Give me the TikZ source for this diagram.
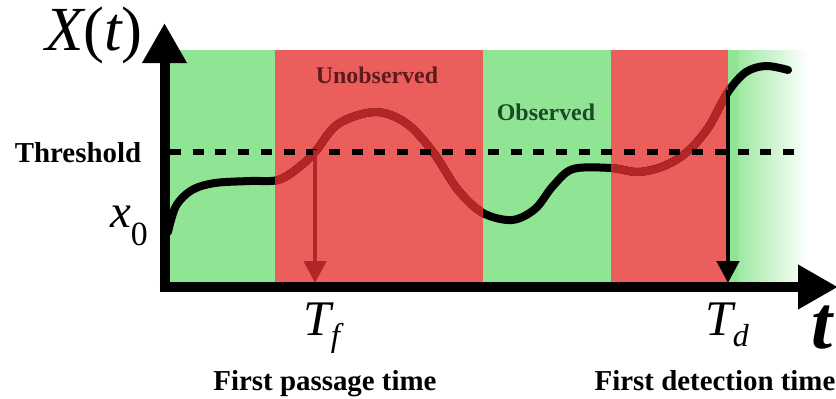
\documentclass[tikz,border=0pt]{standalone}
\usepackage{fontspec}
\setmainfont{Liberation Serif}
\usetikzlibrary{arrows.meta}
\definecolor{obsgreen}{RGB}{144,229,148}
\definecolor{unobsred}{RGB}{236,94,92}
\definecolor{curvered}{RGB}{180,38,38}
\definecolor{unobstext}{RGB}{92,28,28}
\definecolor{obstext}{RGB}{30,72,40}
\newcommand\drawmycurve[1]{\draw[#1] plot[smooth,tension=0.55] coordinates {(168,232) (176,206) (192,190) (215,183) (250,181) (278,180) (298,168) (315,152) (338,124) (375,112) (406,123) (433,152) (458,190) (483,213) (512,220) (535,209) (553,186) (573,169) (611,168) (638,172) (664,166) (687,152) (708,128) (728,92) (746,72) (766,66) (788,70)};}
\tikzset{
  band/.style={draw=none},
  curvestyle/.style={line width=8bp,line cap=round,line join=round},
  axisstyle/.style={line width=10bp,-{Triangle[width=42bp,length=40bp]}},
  boldlabel/.style={font=\fontsize{29}{34}\selectfont\bfseries,inner sep=0pt,anchor=base},
  zonelabel/.style={font=\fontsize{24}{28}\selectfont\bfseries,inner sep=0pt,anchor=base},
  droparrow/.style={line width=4.5bp,-{Triangle[width=22bp,length=22bp]}},
}
\begin{document}
\begin{tikzpicture}[x=1bp,y=-1bp]
\useasboundingbox (0,0) rectangle (836,398);
% bands
\fill[obsgreen] (164,50) rectangle (275,287);
\fill[unobsred] (275,50) rectangle (483,287);
\fill[obsgreen] (483,50) rectangle (611,287);
\fill[unobsred] (611,50) rectangle (728,287);
\shade[left color=obsgreen,right color=white] (728,50) rectangle (808,287);
\fill[obsgreen] (728,50) rectangle (738,287);
% curve
\drawmycurve{curvestyle,black}
\begin{scope}
  \clip (275,40) rectangle (483,290) (611,40) rectangle (728,290);
  \drawmycurve{curvestyle,curvered}
\end{scope}
% threshold
\coordinate (thL) at (170,152);
\coordinate (thR) at (805,152);
\draw[line width=6bp,dash pattern=on 11bp off 11.7bp] (thL) -- (thR);
% drop arrows
\coordinate (tfTop) at (315,150);
\coordinate (tfBot) at (315,283);
\draw[droparrow,curvered] (tfTop) -- (tfBot);
\coordinate (tdTop) at (728,90);
\coordinate (tdBot) at (728,283);
\draw[droparrow,black] (tdTop) -- (tdBot);
% axes
\coordinate (orig) at (164.5,292);
\coordinate (ytip) at (164.5,23);
\coordinate (xstart) at (159.5,287);
\coordinate (xtip) at (838,287);
\draw[axisstyle] (orig) -- (ytip);
\draw[axisstyle] (xstart) -- (xtip);
% labels
\node[inner sep=0pt,anchor=base west] (Xt) at (45,50) {\fontsize{63}{63}\selectfont\itshape X\upshape(\itshape t\upshape)};
\node[inner sep=0pt,anchor=base west] (x0) at (110,227) {\fontsize{47}{47}\selectfont\itshape x\raisebox{-18bp}{\fontsize{34}{34}\selectfont\upshape 0}};
\node[boldlabel] (thr) at (78,162) {Threshold};
\node[zonelabel,text=unobstext] (unobs) at (377,83) {Unobserved};
\node[zonelabel,text=obstext] (obs) at (546,120) {Observed};
\node[inner sep=0pt,anchor=base west] (Tf) at (303,335) {\fontsize{50}{50}\selectfont\itshape T\raisebox{-11bp}{\fontsize{33}{33}\selectfont f}};
\node[inner sep=0pt,anchor=base west] (Td) at (705,335) {\fontsize{50}{50}\selectfont\itshape T\raisebox{-11bp}{\fontsize{32}{32}\selectfont d}};
\node[inner sep=0pt,anchor=base west] (tlab) at (811,348) {\fontsize{76}{76}\selectfont\bfseries\itshape t};
\node[boldlabel] (fpt) at (325,390) {First passage time};
\node[boldlabel] (fdt) at (715,390) {First detection time};
\end{tikzpicture}
\end{document}
